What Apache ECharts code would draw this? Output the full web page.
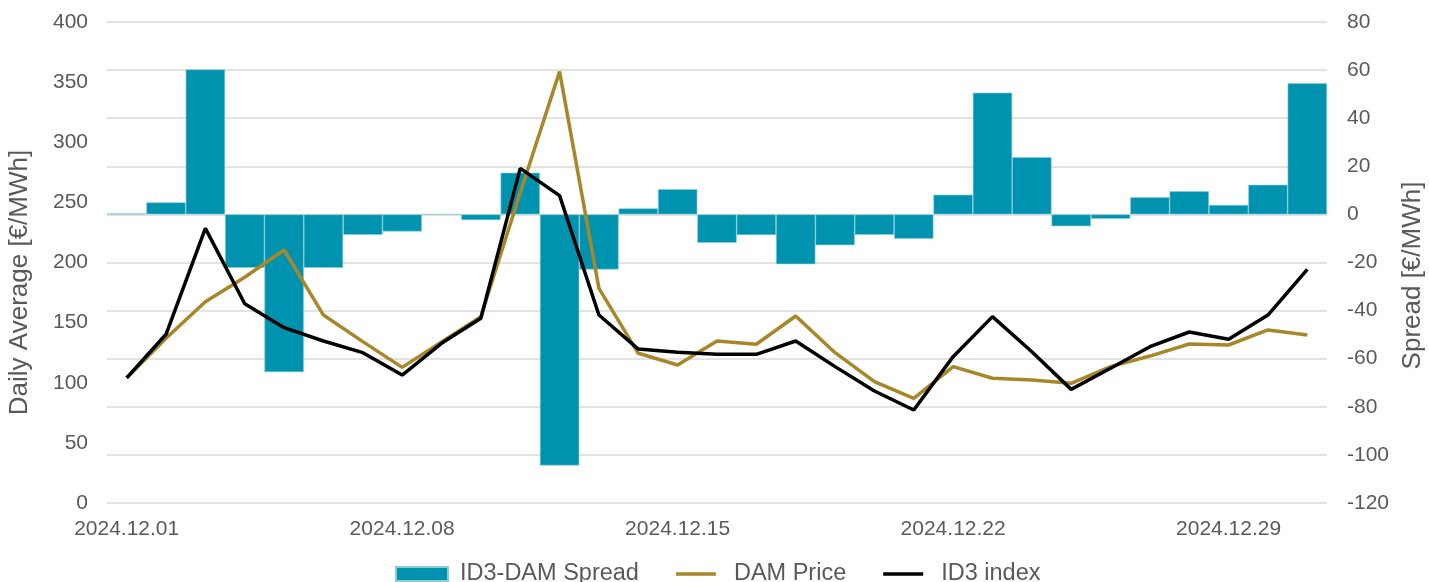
<!DOCTYPE html>
<html>
<head>
    <meta charset="utf-8">
    <title>ID3-DAM Spread</title>
    <script src="https://cdn.jsdelivr.net/npm/echarts@6/dist/echarts.min.js"></script>
    <style>
        html, body { margin: 0; padding: 0; background: #fff; }
        #chart { width: 1429px; height: 582px; }
    </style>
</head>
<body>
    <div id="chart"></div>
    <script>
        // 日期
        const dates = [
            '2024.12.01', '2024.12.02', '2024.12.03', '2024.12.04', '2024.12.05', '2024.12.06', '2024.12.07',
            '2024.12.08', '2024.12.09', '2024.12.10', '2024.12.11', '2024.12.12', '2024.12.13', '2024.12.14',
            '2024.12.15', '2024.12.16', '2024.12.17', '2024.12.18', '2024.12.19', '2024.12.20', '2024.12.21',
            '2024.12.22', '2024.12.23', '2024.12.24', '2024.12.25', '2024.12.26', '2024.12.27', '2024.12.28',
            '2024.12.29', '2024.12.30', '2024.12.31'
        ];
        // ID3-DAM Spread (右轴)
        const spread = [
            0.4, 5.0, 60.3, -22.2, -65.6, -22.2, -8.5,
            -7.1, 0, -2.4, 17.3, -104.4, -22.9, 2.5,
            10.5, -11.8, -8.6, -20.7, -12.8, -8.5, -10.1,
            8.2, 50.6, 23.8, -4.9, -1.8, 7.1, 9.6,
            3.9, 12.3, 54.6
        ];
        // DAM Price (左轴)
        const damPrice = [
            104, 137, 167.4, 187.7, 210.4, 156.3, 134.2,
            112.8, 134, 155, 258, 358.7, 178.5, 124.5,
            114.8, 134.7, 132, 155.5, 125, 100.9, 87,
            113.4, 103.7, 102.3, 99.5, 113.4, 122.2, 132.2,
            131.4, 143.9, 139.7
        ];
        // ID3 index (左轴)
        const id3Index = [
            104, 140.3, 228.4, 165.7, 145.8, 134.7, 125,
            106.4, 132.8, 153.6, 278.3, 255.6, 156.3, 128,
            125.3, 123.6, 123.6, 134.7, 113.4, 93.1, 77.3,
            121.7, 155, 125.8, 94.5, 112, 130, 142.2,
            136.1, 156.3, 194.3
        ];

        const textColor = '#595959';
        const fontFamily = 'Liberation Sans, Arial, sans-serif';
        // 图例里的线条图标 (细横线, 上下两个极小的点撑开高度)
        const lineIcon = 'path://M0,0h0.01v0.01h-0.01zM0,5.3h40v3.4h-40zM0,14h0.01v-0.01h-0.01z';

        const chart = echarts.init(document.getElementById('chart'));

        const option = {
            animation: false,
            textStyle: { fontFamily: fontFamily, color: textColor },
            grid: { left: 107, right: 102, top: 22, bottom: 79, outerBoundsMode: 'none' },
            legend: {
                top: 557,
                left: 390,
                itemWidth: 52,
                itemHeight: 14,
                itemGap: 37,
                textStyle: { fontSize: 23.5, color: textColor, fontFamily: fontFamily, padding: [0, 0, 0, 7] },
                data: [
                    { name: 'ID3-DAM Spread', icon: 'rect' },
                    { name: 'DAM Price', icon: lineIcon },
                    { name: 'ID3 index', icon: lineIcon }
                ]
            },
            xAxis: {
                type: 'category',
                data: dates,
                boundaryGap: true,
                axisLine: { show: false },
                axisTick: { show: false },
                axisLabel: {
                    interval: 6,
                    fontSize: 21,
                    color: textColor,
                    margin: 16
                }
            },
            yAxis: [
                {
                    type: 'value',
                    min: 0,
                    max: 400,
                    interval: 50,
                    name: 'Daily Average [€/MWh]',
                    nameLocation: 'middle',
                    nameGap: 74,
                    nameTextStyle: { fontSize: 26, color: textColor, padding: [0, 40, 0, 0] },
                    axisLine: { show: false },
                    axisTick: { show: false },
                    splitLine: { show: false },
                    axisLabel: { fontSize: 21, color: textColor, margin: 19 }
                },
                {
                    type: 'value',
                    min: -120,
                    max: 80,
                    interval: 20,
                    name: 'Spread [€/MWh]',
                    nameLocation: 'middle',
                    nameGap: 70,
                    nameTextStyle: { fontSize: 26, color: textColor, padding: [0, 26, 0, 0] },
                    axisLine: { show: false },
                    axisTick: { show: false },
                    splitLine: { show: true, lineStyle: { color: '#d9d9d9', width: 1.5 } },
                    axisLabel: { fontSize: 21, color: textColor, margin: 20 }
                }
            ],
            series: [
                {
                    name: 'ID3-DAM Spread',
                    type: 'bar',
                    yAxisIndex: 1,
                    data: spread,
                    barWidth: '100%',
                    itemStyle: { color: '#0093AF', borderColor: '#8ccbd8', borderWidth: 0.6 },
                    z: 2
                },
                {
                    name: 'DAM Price',
                    type: 'line',
                    yAxisIndex: 0,
                    data: damPrice,
                    symbol: 'none',
                    lineStyle: { color: '#A8862A', width: 3.5 },
                    itemStyle: { color: '#A8862A' },
                    z: 3
                },
                {
                    name: 'ID3 index',
                    type: 'line',
                    yAxisIndex: 0,
                    data: id3Index,
                    symbol: 'none',
                    lineStyle: { color: '#000000', width: 3.5 },
                    itemStyle: { color: '#000000' },
                    z: 4
                }
            ]
        };

        chart.setOption(option);
    </script>
</body>
</html>
